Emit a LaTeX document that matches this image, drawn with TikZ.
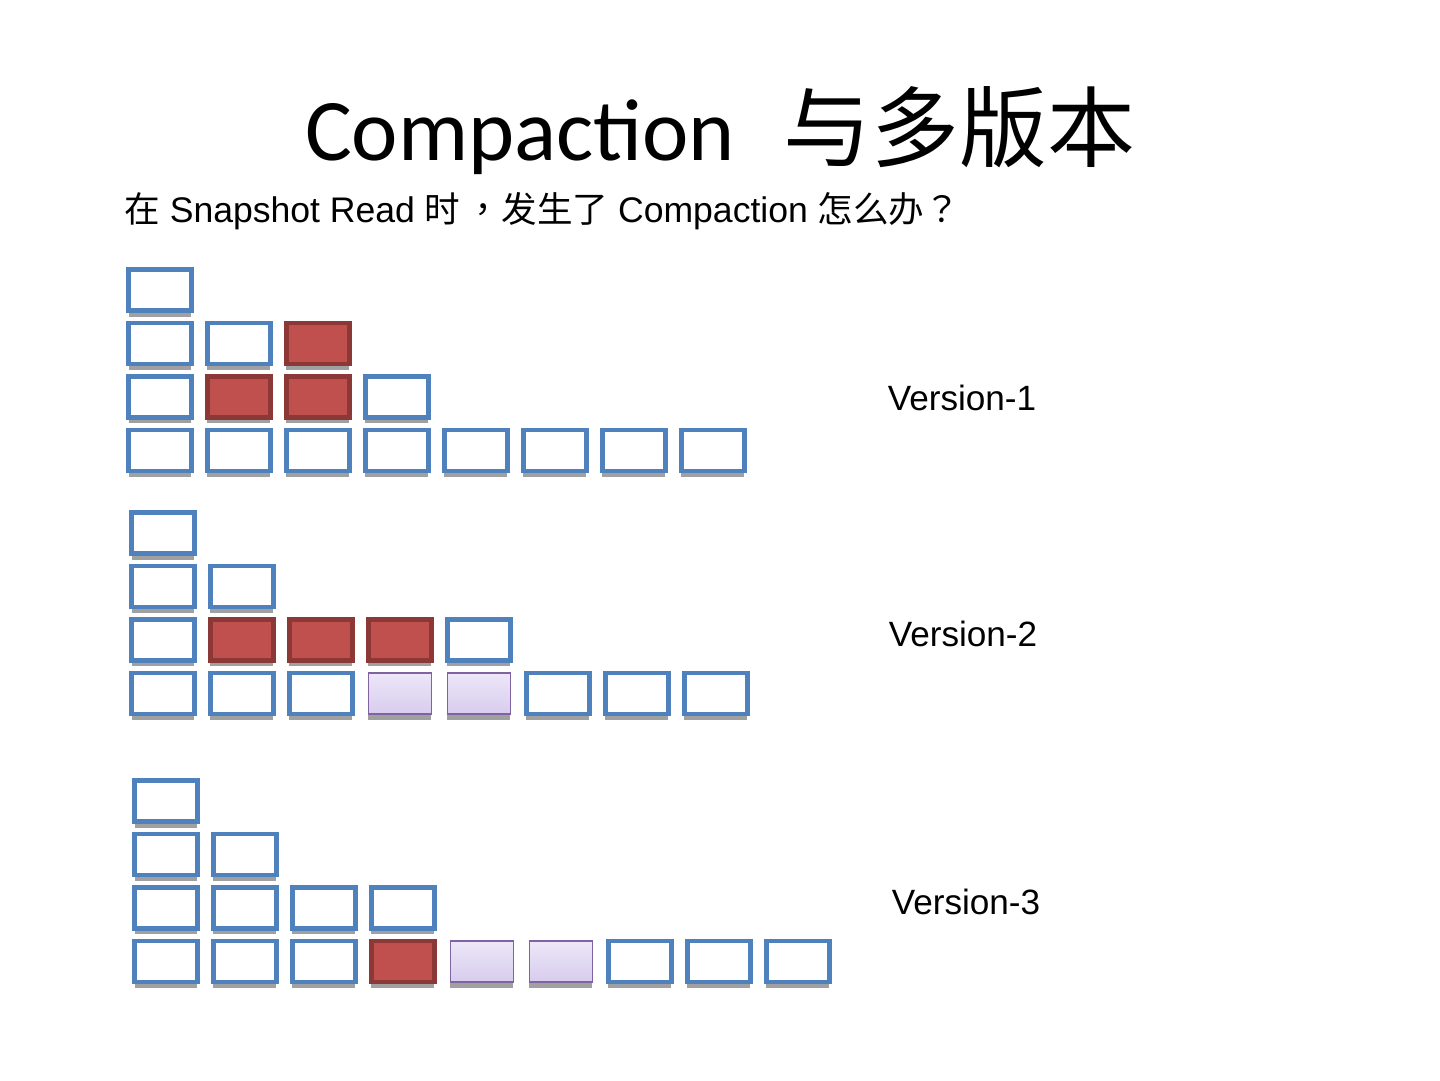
\documentclass[tikz,border=0pt]{standalone}
\usepackage{fontspec}
\setmainfont{Liberation Sans}
\newfontfamily\titlefont{Carlito}
\newfontfamily\cjk{Noto Sans CJK SC}
\newfontfamily\cjkpunct{Noto Sans CJK TC}
\usepackage{tikz}
\usetikzlibrary{positioning, shadows}
\definecolor{cellblue}{RGB}{79,129,189}
\definecolor{hotfill}{RGB}{192,80,77}
\definecolor{hotline}{RGB}{140,56,54}
\definecolor{goneline}{RGB}{128,100,162}
\definecolor{gonetop}{RGB}{236,231,248}
\definecolor{gonebot}{RGB}{216,204,238}
\definecolor{shade}{RGB}{160,160,160}

\begin{document}
\begin{tikzpicture}[
      x=0.02cm, y=-0.02cm,
      cell/.style={rectangle, draw=cellblue, line width=2.8pt, fill=white,
                   minimum width=1.26cm, minimum height=0.82cm, inner sep=0pt, outer sep=0pt,
                   drop shadow={shadow xshift=0pt, shadow yshift=-0.12cm, fill=shade, opacity=1}},
      hot/.style={cell, draw=hotline, fill=hotfill, line width=2.4pt},
      gone/.style={cell, draw=goneline, line width=0.6pt, top color=gonetop, bottom color=gonebot},
      lbl/.style={font=\fontsize{20}{24}\selectfont}
    ]
    \useasboundingbox (0,0) rectangle (1440,1080);

    \node[anchor=base, font=\fontsize{50}{60}\selectfont] (title) at (720,160)
      {\titlefont Compaction\hspace{0.55em}{\cjk 与多版本}};
    \node[anchor=base west, font=\fontsize{20.25}{24}\selectfont, inner sep=0pt] (ask) at (124,222)
      {{\cjk 在} Snapshot Read {\cjk 时}\hspace{0.15em}{\cjkpunct ，}{\cjk 发生了} Compaction {\cjk 怎么办}{\cjkpunct ？}};

    % Version-1
    \node[cell] (p1a1) at (160,290) {};
    \node[cell, below=0.25cm of p1a1] (p1b1) {};
    \node[cell, right=0.32cm of p1b1] (p1b2) {};
    \node[hot, right=0.32cm of p1b2] (p1b3) {};
    \node[cell, below=0.25cm of p1b1] (p1c1) {};
    \node[hot, right=0.32cm of p1c1] (p1c2) {};
    \node[hot, right=0.32cm of p1c2] (p1c3) {};
    \node[cell, right=0.32cm of p1c3] (p1c4) {};
    \node[cell, below=0.25cm of p1c1] (p1d1) {};
    \node[cell, right=0.32cm of p1d1] (p1d2) {};
    \node[cell, right=0.32cm of p1d2] (p1d3) {};
    \node[cell, right=0.32cm of p1d3] (p1d4) {};
    \node[cell, right=0.32cm of p1d4] (p1d5) {};
    \node[cell, right=0.32cm of p1d5] (p1d6) {};
    \node[cell, right=0.32cm of p1d6] (p1d7) {};
    \node[cell, right=0.32cm of p1d7] (p1d8) {};
    \node[lbl] (ver1) at (962,398) {Version-1};

    % Version-2
    \node[cell] (p2a1) at (163,533) {};
    \node[cell, below=0.25cm of p2a1] (p2b1) {};
    \node[cell, right=0.32cm of p2b1] (p2b2) {};
    \node[cell, below=0.25cm of p2b1] (p2c1) {};
    \node[hot, right=0.32cm of p2c1] (p2c2) {};
    \node[hot, right=0.32cm of p2c2] (p2c3) {};
    \node[hot, right=0.32cm of p2c3] (p2c4) {};
    \node[cell, right=0.32cm of p2c4] (p2c5) {};
    \node[cell, below=0.25cm of p2c1] (p2d1) {};
    \node[cell, right=0.32cm of p2d1] (p2d2) {};
    \node[cell, right=0.32cm of p2d2] (p2d3) {};
    \node[gone, right=0.32cm of p2d3] (p2d4) {};
    \node[gone, right=0.32cm of p2d4] (p2d5) {};
    \node[cell, right=0.32cm of p2d5] (p2d6) {};
    \node[cell, right=0.32cm of p2d6] (p2d7) {};
    \node[cell, right=0.32cm of p2d7] (p2d8) {};
    \node[lbl] (ver2) at (963,634) {Version-2};

    % Version-3
    \node[cell] (p3a1) at (166,801) {};
    \node[cell, below=0.25cm of p3a1] (p3b1) {};
    \node[cell, right=0.32cm of p3b1] (p3b2) {};
    \node[cell, below=0.25cm of p3b1] (p3c1) {};
    \node[cell, right=0.32cm of p3c1] (p3c2) {};
    \node[cell, right=0.32cm of p3c2] (p3c3) {};
    \node[cell, right=0.32cm of p3c3] (p3c4) {};
    \node[cell, below=0.25cm of p3c1] (p3d1) {};
    \node[cell, right=0.32cm of p3d1] (p3d2) {};
    \node[cell, right=0.32cm of p3d2] (p3d3) {};
    \node[hot, right=0.32cm of p3d3] (p3d4) {};
    \node[gone, right=0.32cm of p3d4] (p3d5) {};
    \node[gone, right=0.32cm of p3d5] (p3d6) {};
    \node[cell, right=0.32cm of p3d6] (p3d7) {};
    \node[cell, right=0.32cm of p3d7] (p3d8) {};
    \node[cell, right=0.32cm of p3d8] (p3d9) {};
    \node[lbl] (ver3) at (966,902) {Version-3};
  \end{tikzpicture}
\end{document}
